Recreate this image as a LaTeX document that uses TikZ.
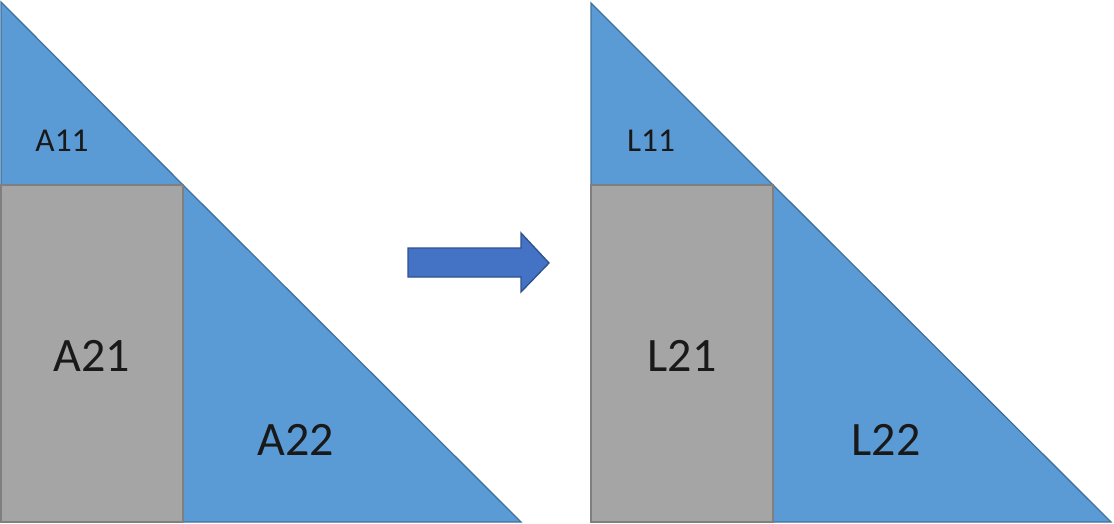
\documentclass[tikz,border=0pt]{standalone}
\usepackage{fontspec}
\setmainfont{Carlito}
\usepackage{xcolor}
\usepackage{tikz}
\usetikzlibrary{positioning}

\definecolor{blockblue}{HTML}{5B9BD5}
\definecolor{blockblueline}{HTML}{41719C}
\definecolor{blockgray}{HTML}{A5A5A5}
\definecolor{blockgrayline}{HTML}{7F7F7F}
\definecolor{arrowblue}{HTML}{4472C4}
\definecolor{arrowblueline}{HTML}{2F528F}

\begin{document}
\begin{tikzpicture}[x=0.75pt, y=-0.75pt,
    tri/.style={fill=blockblue, draw=blockblueline, line width=1pt, line join=miter},
    rect/.style={fill=blockgray, draw=blockgrayline, line width=1.2pt},
    small/.style={font=\fontsize{25}{30}\selectfont, text=black!90},
    big/.style={font=\fontsize{36}{43}\selectfont, text=black!90}]
    \useasboundingbox (0,0) rectangle (1114,524);

    % left: A
    \filldraw[tri] (1,2) -- (183,185) -- (1,185) -- cycle;
    \filldraw[tri] (183,185) -- (521,522) -- (183,522) -- cycle;
    \filldraw[rect] (1,185) rectangle (183,522);
    \node[small] (a11) at (62,141) {A11};
    \node[big] (a21) at (92,356) {A21};
    \node[big] (a22) at (296,440) {A22};

    % arrow
    \filldraw[fill=arrowblue, draw=arrowblueline, line width=1pt]
        (408,248) -- (521,248) -- (521,233) -- (549,263) -- (521,292)
        -- (521,277) -- (408,277) -- cycle;

    % right: L
    \filldraw[tri] (591,3) -- (773,185) -- (591,185) -- cycle;
    \filldraw[tri] (773,185) -- (1111,522) -- (773,522) -- cycle;
    \filldraw[rect] (591,185) rectangle (773,522);
    \node[small] (l11) at (651,141) {L11};
    \node[big] (l21) at (682,356) {L21};
    \node[big] (l22) at (886,440) {L22};
\end{tikzpicture}
\end{document}
